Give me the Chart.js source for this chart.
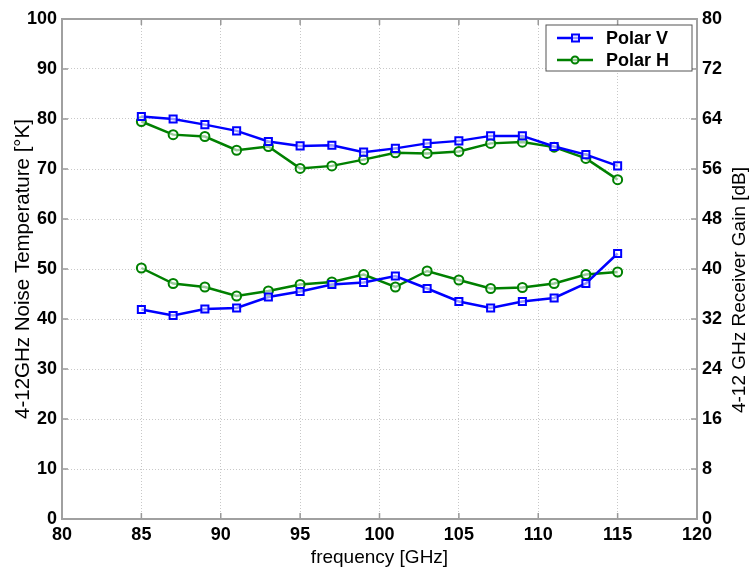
<!DOCTYPE html>
<html>
<head>
<meta charset="utf-8">
<script src="https://cdn.jsdelivr.net/npm/chart.js@4.4.1/dist/chart.umd.min.js"></script>
<style>
    body { margin: 0; background: #fff; }
    canvas { display: block; }
</style>
</head>
<body>
<canvas id="noise-chart" width="751" height="569"></canvas>
<script>
// Data
const freqs = [85, 87, 89, 91, 93, 95, 97, 99, 101, 103, 105, 107, 109, 111, 113, 115];

// 4-12 GHz noise temperature [K] (left axis)
const noiseV = [41.9, 40.7, 42.0, 42.2, 44.4, 45.5, 46.9, 47.3, 48.6, 46.1, 43.5, 42.2, 43.5, 44.2, 47.1, 53.1];
const noiseH = [50.2, 47.1, 46.4, 44.6, 45.6, 46.9, 47.4, 48.9, 46.4, 49.6, 47.8, 46.1, 46.3, 47.1, 48.9, 49.4];

// 4-12 GHz receiver gain [dB] (right axis)
const gainV = [64.4, 64.0, 63.1, 62.1, 60.4, 59.7, 59.8, 58.7, 59.3, 60.1, 60.5, 61.3, 61.3, 59.6, 58.3, 56.5];
const gainH = [63.6, 61.5, 61.2, 59.0, 59.6, 56.1, 56.5, 57.5, 58.6, 58.5, 58.8, 60.1, 60.3, 59.5, 57.7, 54.3];

const seriesNames = ['Polar V', 'Polar H'];
const seriesColors = ['#0000ff', '#008000'];
const seriesMarkers = ['rect', 'circle'];

const FONT = "'Liberation Sans', Arial, Helvetica, sans-serif";

function toPoints(values) {
    return values.map((v, i) => ({ x: freqs[i], y: v }));
}

function makeDataset(label, values, idx, axis) {
    return {
        label: label,
        data: toPoints(values),
        yAxisID: axis,
        borderColor: seriesColors[idx],
        backgroundColor: seriesColors[idx],
        borderWidth: 2.5,
        pointStyle: seriesMarkers[idx],
        pointRadius: idx === 0 ? 5 : 4.5,
        pointBorderWidth: 2,
        pointBorderColor: seriesColors[idx],
        pointBackgroundColor: 'rgba(255,255,255,0.6)',
        tension: 0
    };
}

// Frame, inner tick marks, axis titles and the boxed legend (MATLAB style)
const matlabDecor = {
    id: 'matlabDecor',
    afterDatasetsDraw(chart) {
        const { ctx, chartArea: a, scales } = chart;
        ctx.save();

        // tick marks pointing inward
        ctx.strokeStyle = '#999';
        ctx.lineWidth = 1.5;
        ctx.beginPath();
        scales.x.ticks.forEach(t => {
            const px = scales.x.getPixelForValue(t.value);
            ctx.moveTo(px, a.bottom); ctx.lineTo(px, a.bottom - 6);
            ctx.moveTo(px, a.top); ctx.lineTo(px, a.top + 6);
        });
        scales.y.ticks.forEach(t => {
            const py = scales.y.getPixelForValue(t.value);
            ctx.moveTo(a.left, py); ctx.lineTo(a.left + 6, py);
        });
        scales.y1.ticks.forEach(t => {
            const py = scales.y1.getPixelForValue(t.value);
            ctx.moveTo(a.right, py); ctx.lineTo(a.right - 6, py);
        });
        ctx.stroke();

        // box
        ctx.strokeStyle = '#a0a0a0';
        ctx.lineWidth = 2;
        ctx.strokeRect(a.left, a.top, a.right - a.left, a.bottom - a.top);

        // axis titles
        ctx.fillStyle = '#000';
        ctx.textAlign = 'center';
        ctx.textBaseline = 'middle';
        ctx.font = '19px ' + FONT;
        ctx.fillText('frequency [GHz]', (a.left + a.right) / 2, 558);

        ctx.save();
        ctx.font = '20.5px ' + FONT;
        ctx.translate(23, (a.top + a.bottom) / 2);
        ctx.rotate(-Math.PI / 2);
        ctx.fillText('4-12GHz Noise Temperature [°K]', 0, 0);
        ctx.restore();

        ctx.save();
        ctx.font = '19px ' + FONT;
        ctx.translate(740, 290);
        ctx.rotate(-Math.PI / 2);
        ctx.fillText('4-12 GHz Receiver Gain [dB]', 0, 0);
        ctx.restore();

        // legend
        const box = { x: 546, y: 25, w: 146, h: 46 };
        ctx.fillStyle = '#fff';
        ctx.fillRect(box.x, box.y, box.w, box.h);
        ctx.strokeStyle = '#555';
        ctx.lineWidth = 1;
        ctx.strokeRect(box.x, box.y, box.w, box.h);

        ctx.font = 'bold 18px ' + FONT;
        ctx.textAlign = 'left';
        seriesNames.forEach((name, i) => {
            const rowY = box.y + 13 + i * 22;
            ctx.strokeStyle = seriesColors[i];
            ctx.lineWidth = 2.5;
            ctx.beginPath();
            ctx.moveTo(557, rowY);
            ctx.lineTo(593, rowY);
            ctx.stroke();
            ctx.fillStyle = 'rgba(255,255,255,0.6)';
            ctx.lineWidth = 2;
            if (seriesMarkers[i] === 'rect') {
                ctx.fillRect(572, rowY - 3.5, 7, 7);
                ctx.strokeRect(572, rowY - 3.5, 7, 7);
            } else {
                ctx.beginPath();
                ctx.arc(575, rowY, 3.5, 0, Math.PI * 2);
                ctx.fill();
                ctx.stroke();
            }
            ctx.fillStyle = '#000';
            ctx.fillText(name, 606, rowY + 1);
        });

        ctx.restore();
    }
};

const tickFont = { family: FONT, size: 18, weight: 'bold' };

const chart = new Chart(document.getElementById('noise-chart'), {
    type: 'line',
    data: {
        datasets: [
            makeDataset('Polar V gain', gainV, 0, 'y1'),
            makeDataset('Polar H gain', gainH, 1, 'y1'),
            makeDataset('Polar V noise', noiseV, 0, 'y'),
            makeDataset('Polar H noise', noiseH, 1, 'y')
        ]
    },
    options: {
        responsive: false,
        animation: false,
        devicePixelRatio: 1,
        layout: { padding: { top: 19, left: 0, right: 0, bottom: 0 } },
        plugins: {
            legend: { display: false },
            tooltip: { enabled: false }
        },
        scales: {
            x: {
                type: 'linear',
                min: 80,
                max: 120,
                ticks: { stepSize: 5, color: '#000', font: tickFont, padding: 5, maxRotation: 0 },
                grid: { color: '#c8c8c8', lineWidth: 1, drawTicks: false },
                border: { display: false, dash: [1, 2] },
                afterFit(scale) { scale.height = 50; }
            },
            y: {
                position: 'left',
                min: 0,
                max: 100,
                ticks: { stepSize: 10, color: '#000', font: tickFont, padding: 5 },
                grid: { color: '#c8c8c8', lineWidth: 1, drawTicks: false },
                border: { display: false, dash: [1, 2] },
                afterFit(scale) { scale.width = 62; }
            },
            y1: {
                position: 'right',
                min: 0,
                max: 80,
                ticks: { stepSize: 8, color: '#000', font: tickFont, padding: 5 },
                grid: { display: false, drawTicks: false },
                border: { display: false },
                afterFit(scale) { scale.width = 54; }
            }
        }
    },
    plugins: [matlabDecor]
});
</script>
</body>
</html>
